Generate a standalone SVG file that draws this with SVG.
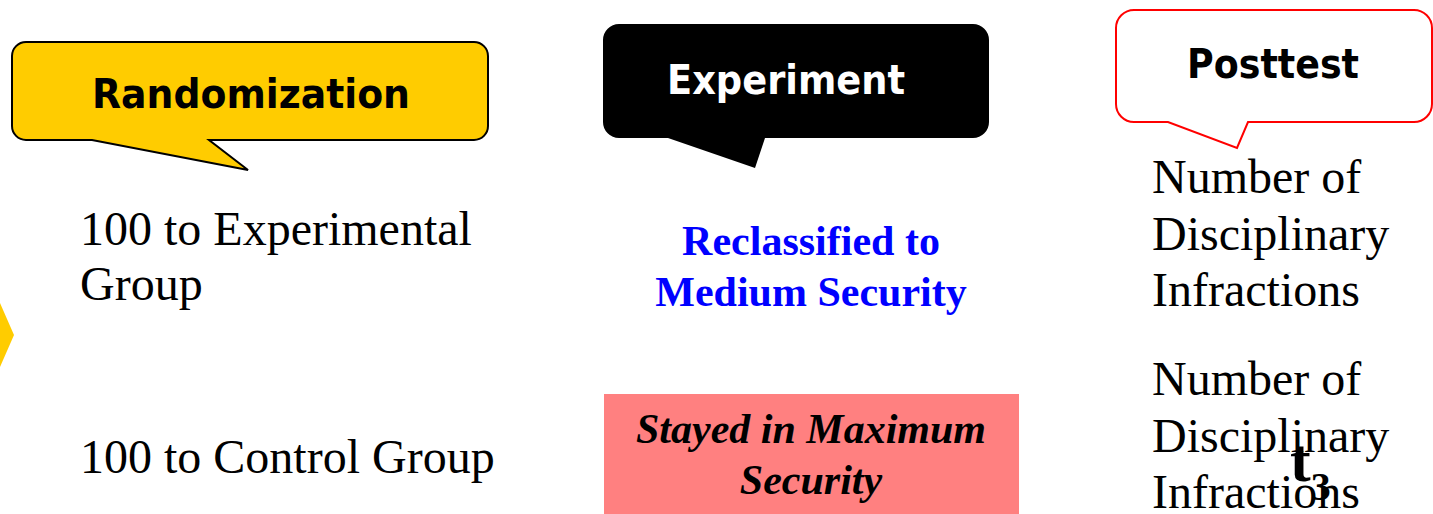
<svg xmlns="http://www.w3.org/2000/svg" width="1433" height="514" viewBox="0 0 1433 514">
<style>
.call{font-family:"DejaVu Sans","Liberation Sans",sans-serif;font-weight:bold;font-size:40px}
.body{font-family:"Liberation Serif","Times New Roman",serif;font-size:48px;fill:#000}
.blue{font-family:"Liberation Serif",serif;font-weight:bold;font-size:42px;fill:#0000ff}
.ital{font-family:"Liberation Serif",serif;font-weight:bold;font-style:italic;font-size:42px;fill:#000}
</style>
<rect width="1433" height="514" fill="#ffffff"/>
<g id="chevron">
<polygon points="0,303 14,335 0,367" fill="#ffcc00"/>
</g>
<g id="randomization">
<path d="M26,42 H474 A14,14 0 0 1 488,56 V126 A14,14 0 0 1 474,140 H209 L248,170 L92,140 H26 A14,14 0 0 1 12,126 V56 A14,14 0 0 1 26,42 Z" fill="#ffcc00" stroke="#000" stroke-width="2"/>
<text class="call" x="92" y="108" textLength="318" lengthAdjust="spacingAndGlyphs" fill="#000">Randomization</text>
</g>
<g id="experiment">
<path d="M619,24 H973 A16,16 0 0 1 989,40 V122 A16,16 0 0 1 973,138 H765 L755,168 L668,138 H619 A16,16 0 0 1 603,122 V40 A16,16 0 0 1 619,24 Z" fill="#000"/>
<text class="call" x="667" y="94" textLength="238" lengthAdjust="spacingAndGlyphs" fill="#fff">Experiment</text>
</g>
<g id="posttest">
<path d="M1134,10 H1414 A18,18 0 0 1 1432,28 V104 A18,18 0 0 1 1414,122 H1248 L1237,148 L1168,122 H1134 A18,18 0 0 1 1116,104 V28 A18,18 0 0 1 1134,10 Z" fill="#fff" stroke="#ff0000" stroke-width="2"/>
<text class="call" x="1187" y="78" textLength="172" lengthAdjust="spacingAndGlyphs" fill="#000">Posttest</text>
</g>
<g id="experimental-group">
<text class="body" x="80" y="245">100 to Experimental</text>
<text class="body" x="80" y="300">Group</text>
</g>
<g id="control-group">
<text class="body" x="80" y="473">100 to Control Group</text>
</g>
<g id="reclassified">
<text class="blue" x="811" y="255" text-anchor="middle">Reclassified to</text>
<text class="blue" x="811" y="306" text-anchor="middle">Medium Security</text>
</g>
<g id="stayed">
<rect x="604" y="394" width="415" height="120" fill="#ff8080"/>
<text class="ital" x="811" y="443" text-anchor="middle">Stayed in Maximum</text>
<text class="ital" x="811" y="494" text-anchor="middle">Security</text>
</g>
<g id="posttest-exp">
<text class="body" x="1152" y="193">Number of</text>
<text class="body" x="1152" y="250">Disciplinary</text>
<text class="body" x="1152" y="306">Infractions</text>
</g>
<g id="posttest-ctrl">
<text class="body" x="1152" y="395">Number of</text>
<text class="body" x="1152" y="452">Disciplinary</text>
<text class="body" x="1152" y="508">Infractions</text>
</g>
<g id="t3">
<text x="1290" y="481" font-family="Liberation Serif,serif" font-weight="bold" font-size="62" fill="#000">t<tspan font-size="40" dy="19">3</tspan></text>
</g>
<g id="connectors"></g>
</svg>
